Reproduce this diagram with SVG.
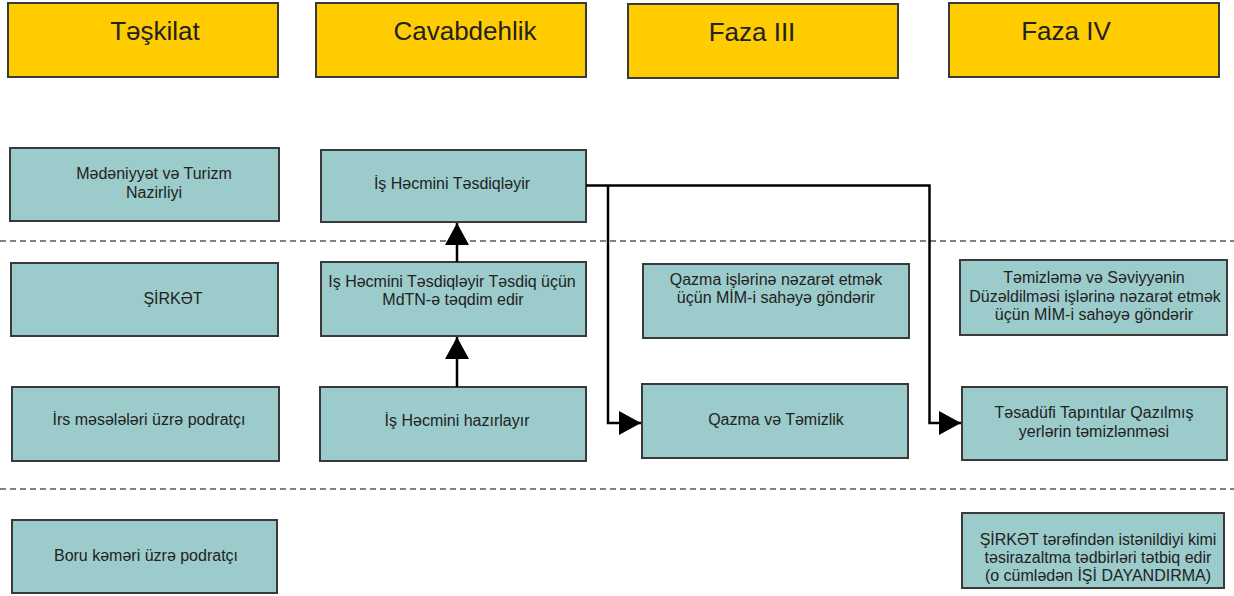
<svg xmlns="http://www.w3.org/2000/svg" width="1234" height="596" viewBox="0 0 1234 596">
<defs>
<style>
.hdr{fill:#ffcc00;stroke:#3a3a3a;stroke-width:2}
.box{fill:#9ccbcb;stroke:#3a3a3a;stroke-width:2}
.ht{font-family:"Liberation Sans",Arial,sans-serif;font-size:26px;fill:#222;text-anchor:middle}
.t{font-family:"Liberation Sans",Arial,sans-serif;font-size:16px;fill:#222;text-anchor:middle}
.dash{stroke:#555;stroke-width:1.5;stroke-dasharray:6 4;fill:none}
.con{stroke:#000;stroke-width:2.5;fill:none}
</style>
<marker id="arr" markerUnits="userSpaceOnUse" markerWidth="23" markerHeight="25" refX="22" refY="12" orient="auto" viewBox="0 0 23 25">
<path d="M0,0 L22,12 L0,24 Z" fill="#000"/>
</marker>
</defs>
<rect width="1234" height="596" fill="#fff"/>
<g id="lanes">
<line class="dash" x1="0" y1="241" x2="1234" y2="241"/>
<line class="dash" x1="0" y1="489" x2="1234" y2="489"/>
</g>
<g id="h1"><rect class="hdr" x="8" y="3" width="270" height="74"/><text class="ht" x="155" y="40">Təşkilat</text></g>
<g id="h2"><rect class="hdr" x="316" y="3" width="270" height="74"/><text class="ht" x="465" y="40">Cavabdehlik</text></g>
<g id="h3"><rect class="hdr" x="628" y="4" width="270" height="74"/><text class="ht" x="752" y="41">Faza III</text></g>
<g id="h4"><rect class="hdr" x="949" y="3" width="270" height="74"/><text class="ht" x="1066" y="40">Faza IV</text></g>
<g id="n1"><rect class="box" x="10" y="148" width="269" height="73"/><text class="t" x="154" y="179">Mədəniyyət və Turizm</text><text class="t" x="154" y="198">Nazirliyi</text></g>
<g id="n2"><rect class="box" x="321" y="150" width="265" height="72"/><text class="t" x="452" y="189">İş Həcmini Təsdiqləyir</text></g>
<g id="n3"><rect class="box" x="11" y="263" width="267" height="73"/><text class="t" x="173" y="304">ŞİRKƏT</text></g>
<g id="n4"><rect class="box" x="321" y="262" width="265" height="74"/><text class="t" x="452" y="287">Iş Həcmini Təsdiqləyir Təsdiq üçün</text><text class="t" x="453" y="305">MdTN-ə təqdim edir</text></g>
<g id="n5"><rect class="box" x="643" y="264" width="266" height="74"/><text class="t" x="776" y="285">Qazma işlərinə nəzarət etmək</text><text class="t" x="776" y="303">üçün MİM-i sahəyə göndərir</text></g>
<g id="n6"><rect class="box" x="960" y="260" width="267" height="75"/><text class="t" x="1094" y="283">Təmizləmə və Səviyyənin</text><text class="t" x="1095" y="302">Düzəldilməsi işlərinə nəzarət etmək</text><text class="t" x="1094" y="320">üçün MİM-i sahəyə göndərir</text></g>
<g id="n7"><rect class="box" x="12" y="387" width="267" height="74"/><text class="t" x="149" y="425">İrs məsələləri üzrə podratçı</text></g>
<g id="n8"><rect class="box" x="320" y="387" width="266" height="74"/><text class="t" x="457" y="426">İş Həcmini hazırlayır</text></g>
<g id="n9"><rect class="box" x="642" y="384" width="266" height="74"/><text class="t" x="776" y="425">Qazma və Təmizlik</text></g>
<g id="n10"><rect class="box" x="962" y="387" width="265" height="73"/><text class="t" x="1094" y="418">Təsadüfi Tapıntılar Qazılmış</text><text class="t" x="1094" y="437">yerlərin təmizlənməsi</text></g>
<g id="n11"><rect class="box" x="12" y="520" width="265" height="73"/><text class="t" x="146" y="561">Boru kəməri üzrə podratçı</text></g>
<g id="n12"><rect class="box" x="962" y="513" width="262" height="75"/><text class="t" x="1098" y="545">ŞİRKƏT tərəfindən istənildiyi kimi</text><text class="t" x="1098" y="563">təsirazaltma tədbirləri tətbiq edir</text><text class="t" x="1098" y="581">(o cümlədən İŞİ DAYANDIRMA)</text></g>
<g id="connectors">
<line class="con" x1="457" y1="387" x2="457" y2="337" marker-end="url(#arr)"/>
<line class="con" x1="457" y1="262" x2="457" y2="223" marker-end="url(#arr)"/>
<polyline class="con" points="586,185.5 929.5,185.5 929.5,423 961,423" marker-end="url(#arr)"/>
<polyline class="con" points="608,185.5 608,423 641,423" marker-end="url(#arr)"/>
</g>
</svg>
